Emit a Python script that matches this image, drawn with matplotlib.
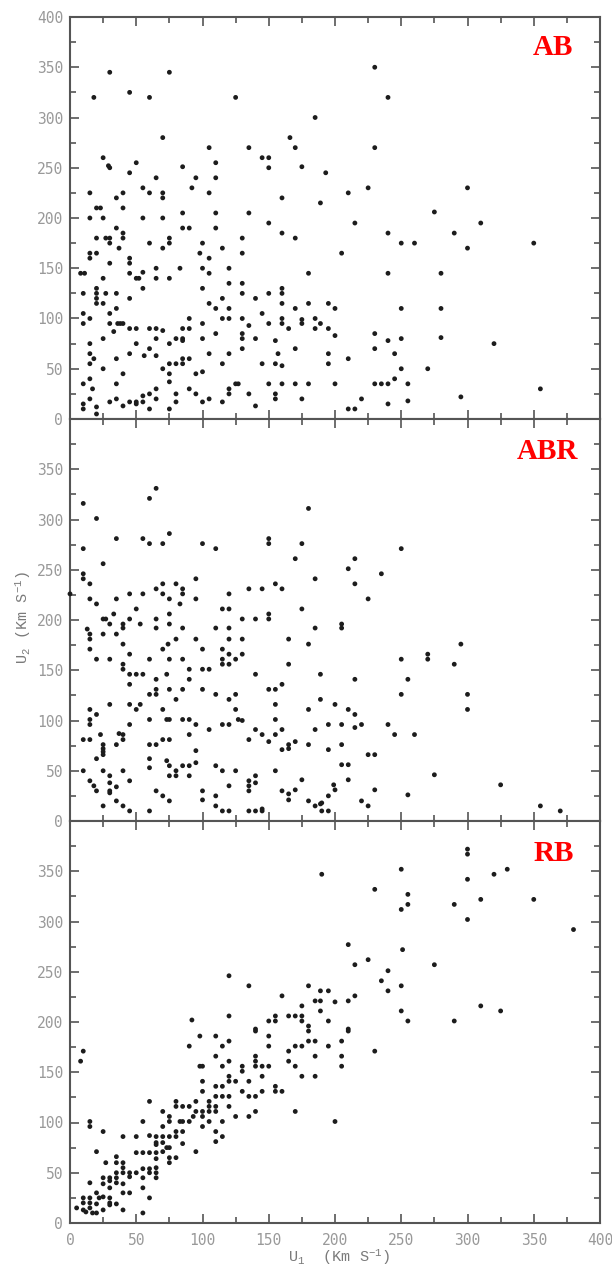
import matplotlib
matplotlib.use("Agg")
import matplotlib.pyplot as plt
from matplotlib.ticker import MultipleLocator

# ---------------- data (U1, U2 in Km/s) ----------------
ab_pts = [
    (15,225),(18,320),(30,345),(45,325),(60,320),(75,345),(25,260),(29,252),(30,250),(45,245),(50,255),
    (35,220),(40,225),(20,210),(23,210),(40,210),(55,230),(60,225),(65,240),(70,280),(70,225),(70,220),
    (85,251),(92,230),(95,240),(105,270),(105,225),(110,255),(110,240),(125,320),(135,270),(145,260),
    (150,260),(150,250),(160,220),(166,280),(170,270),(175,251),(185,300),(189,215),
    (230,350),(240,320),(230,270),(193,245),(210,225),(225,230),(300,230),(275,206),
    (15,200),(25,200),(55,200),(70,200),(85,205),(85,190),(90,190),(110,205),(110,190),(135,205),(150,195),
    (160,185),(170,180),(130,180),(130,165),(15,165),(15,160),(20,165),(20,180),(27,180),(30,180),(30,175),
    (35,190),(40,185),(40,180),(37,170),(60,175),(75,180),(75,175),(70,170),(98,165),(100,175),(105,160),
    (115,170),(30,155),(45,160),(45,155),(45,145),(50,140),(52,140),(55,146),(55,130),(65,150),(65,140),
    (75,140),(83,150),(100,150),(105,145),(100,130),(120,150),(120,135),(130,135),(130,125),(115,120),
    (105,115),(110,110),(120,110),(140,120),(145,105),(150,125),(160,130),(160,125),(160,115),(160,100),
    (160,95),(165,90),(170,110),(175,99),(175,95),(180,145),(180,115),(185,100),(185,90),(189,95),
    (8,145),(11,145),(10,125),(10,105),(10,95),(15,100),(20,130),(20,125),(20,120),(20,115),(25,140),
    (25,115),(27,125),(30,105),(30,95),(35,125),(35,110),(33,87),(36,95),(38,95),(40,95),(45,120),(45,90),
    (50,90),(60,90),(65,90),(70,88),(65,80),(50,75),(60,70),(56,63),(65,63),(45,65),(75,75),(80,80),(85,80),
    (85,78),(85,90),(90,90),(90,100),(100,95),(100,80),(110,85),(115,100),(120,100),(130,100),(130,85),
    (130,80),(130,70),(135,93),(140,80),(120,65),(105,65),(115,55),(150,95),(155,78),(157,65),(155,55),
    (160,53),(145,55),(170,70),
    (15,75),(15,65),(18,60),(15,55),(25,80),(25,50),(35,60),(40,45),(70,50),(75,55),(80,55),(85,55),
    (85,60),(90,60),(75,45),(75,37),(95,45),(100,47),(10,35),(15,40),(17,30),(35,35),(15,20),(10,15),
    (10,10),(20,12),(20,5),(30,17),(35,20),(40,13),(45,17),(50,17),(50,15),(55,17),(55,23),(60,25),(60,10),
    (65,30),(65,20),(75,10),(80,25),(80,17),(90,30),(95,25),(100,17),(105,20),(115,17),(120,30),(120,25),
    (125,35),(127,35),(135,25),(140,13),(150,35),(155,25),(155,20),(160,35),(170,35),(175,20),(180,35),
    (215,195),(240,185),(250,175),(260,175),(290,185),(310,195),(300,170),(350,175),(205,165),(240,145),
    (280,145),(195,115),(200,110),(250,110),(280,110),(195,90),(200,83),(230,85),(230,70),(240,78),
    (250,80),(280,81),(320,75),(195,65),(195,55),(210,60),(245,65),(250,50),(270,50),(200,35),(230,35),
    (235,35),(240,35),(245,40),(255,35),(220,20),(210,10),(215,10),(240,15),(255,18),(295,22),(355,30),
]
abr_pts = [
    (10,316),(20,301),(10,271),(10,246),(10,241),(15,236),(15,221),(20,216),(25,256),(25,201),(27,201),
    (30,196),(33,206),(35,281),(35,221),(40,196),(40,192),(45,201),(45,226),(50,211),(55,281),(55,226),
    (53,196),(60,321),(60,276),(65,331),(65,231),(65,201),(65,192),(70,276),(70,236),(70,226),(75,286),
    (75,221),(75,206),(75,196),(80,236),(83,216),(85,231),(85,226),(85,192),(95,241),(95,221),(100,276),
    (110,271),(110,192),(115,211),(120,226),(120,211),(120,192),(130,201),(135,231),(140,201),(145,231),
    (150,281),(150,276),(150,206),(150,201),(155,236),(160,231),(170,261),(175,276),(175,211),(180,311),
    (185,241),(185,192),(0,226),
    (250,271),(215,261),(210,251),(235,246),(215,236),(225,221),(205,196),(205,192),
    (13,191),(15,186),(15,181),(15,171),(25,186),(35,186),(40,176),(45,166),(20,161),(30,161),(40,156),
    (40,151),(45,146),(50,146),(55,146),(45,136),(60,161),(65,141),(60,126),(65,131),(65,126),(70,171),
    (74,176),(75,161),(73,146),(75,131),(80,121),(85,161),(80,181),(85,131),(90,151),(90,141),(95,181),
    (100,171),(100,151),(105,151),(100,131),(110,126),(115,171),(115,161),(115,156),(120,181),(120,166),
    (120,156),(125,161),(130,181),(130,166),(120,121),(125,126),(140,146),(150,131),(155,131),(160,136),
    (165,181),(165,156),(180,176),(189,146),(189,121),
    (15,111),(15,101),(15,96),(20,106),(10,81),(15,81),(23,86),(25,76),(25,72),(25,69),(25,66),(20,62),
    (30,116),(35,76),(37,87),(40,86),(40,81),(45,116),(50,111),(53,116),(45,96),(60,101),(60,76),(65,76),
    (70,111),(70,81),(75,81),(73,101),(75,101),(85,101),(90,101),(90,86),(95,96),(105,91),(115,96),
    (120,96),(125,111),(127,101),(130,100),(135,81),(140,91),(145,86),(150,79),(155,116),(155,101),
    (155,86),(160,91),(160,71),(165,76),(165,72),(170,79),(180,76),(180,111),(185,91),
    (10,50),(15,40),(18,35),(20,30),(25,50),(30,45),(30,38),(30,30),(30,28),(35,34),(40,50),(45,40),
    (25,15),(35,20),(40,15),(45,10),(60,62),(60,53),(65,30),(60,10),(70,25),(75,20),(73,60),(75,55),
    (75,45),(80,50),(80,45),(85,55),(90,55),(90,45),(95,58),(95,70),(100,30),(100,21),(110,55),(110,25),
    (110,15),(115,50),(115,10),(120,10),(120,35),(125,50),(135,40),(135,35),(135,30),(135,10),(140,10),
    (140,45),(140,38),(145,12),(145,10),(155,50),(160,30),(165,27),(165,21),(170,31),(175,41),(180,20),
    (185,15),(189,17),
    (215,141),(250,161),(255,141),(270,166),(270,161),(290,156),(295,176),(250,126),(300,126),(300,111),
    (200,116),(210,111),(215,106),(195,96),(205,96),(215,93),(220,96),(240,96),(245,86),(260,86),(195,71),
    (205,76),(205,56),(210,56),(225,66),(230,66),(210,41),(199,36),(200,31),(230,31),(275,46),(190,18),
    (190,10),(195,10),(195,25),(220,20),(225,15),(255,26),(325,36),(355,15),(370,10),
]
rb_pts = [
    (92,202),(120,246),(120,206),(135,236),(150,201),(155,206),(155,201),(160,226),(165,206),(170,206),
    (175,216),(175,206),(175,201),(180,236),(180,196),(185,221),(189,231),(189,221),(189,211),(140,193),
    (190,347),(250,352),(230,332),(255,327),(255,317),(250,312),(300,372),(300,367),(300,342),(320,347),
    (330,352),(310,322),(290,317),(350,322),(300,302),(380,292),(210,277),(251,272),(215,257),(225,262),
    (275,257),(240,251),(235,241),(240,231),(250,236),(195,231),(200,220),(210,221),(215,226),(195,201),
    (250,211),(255,201),(290,201),(310,216),(325,211),(210,193),
    (5,15),(8,161),(10,171),(10,25),(10,20),(10,13),(12,11),(15,101),(15,96),(15,40),(15,25),(15,20),
    (15,15),(17,10),(20,71),(20,30),(20,19),(20,10),(25,91),(25,45),(25,39),(25,26),(25,13),(22,25),
    (27,60),(30,45),(30,42),(30,35),(30,25),(30,20),(30,18),(35,66),(35,60),(35,50),(35,45),(35,40),
    (35,19),(40,86),(40,60),(40,55),(40,50),(40,39),(40,30),(40,13),(45,50),(45,46),(45,30),(50,86),
    (50,70),(50,50),(55,101),(55,70),(55,54),(55,45),(55,35),(55,10),(60,121),(60,87),(60,70),(60,54),
    (60,50),(60,25),(65,86),(65,80),(65,78),(65,70),(65,64),(65,55),(65,50),(65,45),(70,111),(70,96),
    (70,86),(70,80),(70,71),(75,106),(75,101),(75,86),(75,75),(73,75),(75,65),(75,60),(80,121),(80,116),
    (80,91),(80,86),(80,65),(85,116),(83,101),(85,101),(85,91),(85,79),(90,116),(90,101),(90,176),
    (95,121),(93,106),(95,111),(95,71),(100,111),(100,106),(100,96),(105,121),(105,116),(105,111),
    (105,101),(110,136),(110,126),(110,116),(110,111),(110,91),(110,81),(115,156),(115,136),(115,126),
    (115,101),(115,86),(120,161),(120,146),(120,141),(120,126),(120,116),(125,141),(125,106),(130,156),
    (130,151),(130,131),(135,141),(135,126),(135,106),(140,166),(140,161),(140,156),(140,126),(140,111),
    (145,156),(145,146),(145,131),(150,156),(155,136),(155,131),(160,131),
    (98,186),(110,186),(120,181),(115,176),(140,191),(150,186),(150,176),(165,171),(165,161),(170,176),
    (175,176),(180,191),(180,181),(185,181),(185,166),(185,146),(175,146),(170,156),(170,111),(110,166),
    (98,156),(100,156),(100,141),(100,131),
    (195,176),(205,181),(205,166),(205,156),(210,191),(230,171),(200,101),
]
panel_names = ["AB", "ABR", "RB"]
x_ticks = [0, 50, 100, 150, 200, 250, 300, 350, 400]
y_ticks = [0, 50, 100, 150, 200, 250, 300, 350, 400]

# ---------------- style ----------------
plt.rcParams['mathtext.fontset'] = 'custom'
plt.rcParams['mathtext.rm'] = 'Liberation Mono'
plt.rcParams['mathtext.it'] = 'Liberation Mono'
plt.rcParams['mathtext.default'] = 'rm'

SPINE = '#555555'
TICKLBL = '#999999'
DOT = '#1c1c1c'

fig = plt.figure(figsize=(6.12, 12.71), dpi=100)
W, H = 612.0, 1271.0
left_px, right_px = 70, 600
top_px, bot_px = 17, 1223
ph = (bot_px - top_px) / 3.0

all_pts = [ab_pts, abr_pts, rb_pts]
label_pos = [(0.911, 0.905), (0.900, 0.900), (0.912, 0.900)]

for i, (pts, name) in enumerate(zip(all_pts, panel_names)):
    y_top = top_px + i * ph
    ax = fig.add_axes([left_px / W, 1 - (y_top + ph) / H, (right_px - left_px) / W, ph / H])
    xs = [p[0] for p in pts]
    ys = [p[1] for p in pts]
    ax.scatter(xs, ys, s=12, color=DOT, edgecolors='none', zorder=3, clip_on=False)
    ax.set_xlim(0, 400)
    ax.set_ylim(0, 400)
    ax.set_xticks(x_ticks)
    ax.set_yticks(y_ticks)
    ax.xaxis.set_minor_locator(MultipleLocator(25))
    ax.yaxis.set_minor_locator(MultipleLocator(25))
    for sp in ax.spines.values():
        sp.set_color(SPINE)
        sp.set_linewidth(1.5)
    ax.tick_params(which='both', direction='in', top=True, right=True, color=SPINE, width=1.2)
    ax.tick_params(which='major', length=6.5)
    ax.tick_params(which='minor', length=4)
    ax.tick_params(axis='y', labelcolor=TICKLBL, labelsize=10.5, pad=5)
    ax.tick_params(axis='x', labelcolor=TICKLBL, labelsize=10.5, pad=7.5)
    for lbl in ax.get_yticklabels() + ax.get_xticklabels():
        lbl.set_fontfamily('DejaVu Sans Mono')
    if i > 0:
        ylabels = [str(v) if v < 400 else '' for v in y_ticks]
        ax.set_yticklabels(ylabels, fontfamily='DejaVu Sans Mono')
    if i < 2:
        ax.tick_params(axis='x', labelbottom=False)
    lx, ly = label_pos[i]
    ax.text(lx, ly, name, transform=ax.transAxes, ha='center', va='baseline',
            fontsize=21, fontweight='bold', color='#ff0000', family='Liberation Serif')

fig.text(23 / W, 1 - 617 / H, r"U$_2$ (Km S$^{-1}$)", rotation=90, ha='center', va='center',
         fontsize=11, color='#7a7a7a', family='Liberation Mono')
fig.text(339 / W, 1 - 1262 / H, r"U$_1$  (Km S$^{-1}$)", ha='center', va='baseline',
         fontsize=11, color='#7a7a7a', family='Liberation Mono')

fig.savefig('out.png', dpi=100)
